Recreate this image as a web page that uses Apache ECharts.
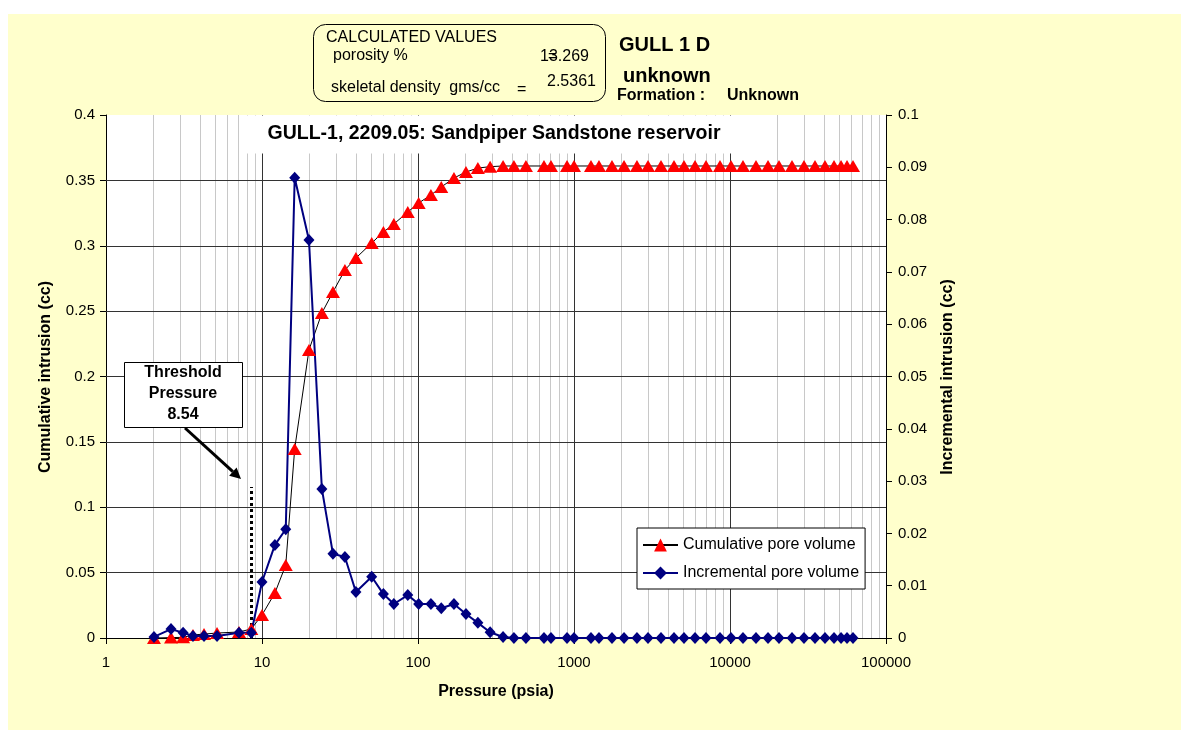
<!DOCTYPE html>
<html>
<head>
<meta charset="utf-8">
<title>GULL-1 mercury injection</title>
<script src="https://cdn.jsdelivr.net/npm/echarts@6/dist/echarts.min.js"></script>
<style>
  html, body { margin: 0; padding: 0; background: #ffffff; }
  #sheet { position: absolute; left: 8px; top: 14px; width: 1173px; height: 716px; background: #ffffcc; }
  #chart { position: absolute; left: 0; top: 0; width: 1189px; height: 736px; }
</style>
</head>
<body>
<div id="sheet"></div>
<div id="chart"></div>
<script>
// Mercury injection: pressure steps (psia)
const pressure = [
  2.03, 2.61, 3.12, 3.61, 4.25, 5.15, 7.12, 8.54, 10.0, 12.1,
  14.2, 16.2, 20.0, 24.2, 28.5, 34.0, 40.0, 50.5, 60.0, 70.0,
  86.0, 101, 121, 141, 170, 203, 242, 290, 351, 412,
  492, 642, 712, 902, 1000, 1285, 1446, 1752, 2093, 2533,
  2981, 3612, 4375, 5072, 5968, 7017, 8628, 10150, 12113, 14678,
  17530, 20610, 24970, 29800, 35070, 40640, 46430, 51500, 56250, 61440
];
// Cumulative intrusion (cc)
const cumulative = [
  0.0000, 0.0003, 0.0005, 0.0023, 0.0030, 0.0038, 0.0046, 0.0069, 0.0176, 0.0344,
  0.0558, 0.1446, 0.2203, 0.2486, 0.2646, 0.2815, 0.2906, 0.3021, 0.3105, 0.3166,
  0.3258, 0.3327, 0.3388, 0.3449, 0.3518, 0.3564, 0.3594, 0.3605, 0.3610, 0.3610,
  0.3610, 0.3610, 0.3610, 0.3610, 0.3610, 0.3610, 0.3610, 0.3610, 0.3610, 0.3610,
  0.3610, 0.3610, 0.3610, 0.3610, 0.3610, 0.3610, 0.3610, 0.3610, 0.3610, 0.3610,
  0.3610, 0.3610, 0.3610, 0.3610, 0.3610, 0.3610, 0.3610, 0.3610, 0.3610, 0.3610
];
// Incremental intrusion (cc)
const incremental = [
  0.0002, 0.0017, 0.0010, 0.0004, 0.0004, 0.0004, 0.0010, 0.0010, 0.0107, 0.0178,
  0.0208, 0.0880, 0.0761, 0.0285, 0.0161, 0.0155, 0.0088, 0.0117, 0.0084, 0.0065,
  0.0082, 0.0065, 0.0065, 0.0057, 0.0065, 0.0046, 0.0029, 0.0011, 0.0002, 0.0000,
  0.0000, 0.0000, 0.0000, 0.0000, 0.0000, 0.0000, 0.0000, 0.0000, 0.0000, 0.0000,
  0.0000, 0.0000, 0.0000, 0.0000, 0.0000, 0.0000, 0.0000, 0.0000, 0.0000, 0.0000,
  0.0000, 0.0000, 0.0000, 0.0000, 0.0000, 0.0000, 0.0000, 0.0000, 0.0000, 0.0000
];
const seriesNames = ['Cumulative pore volume', 'Incremental pore volume'];
const thresholdPressure = 8.54;
const thresholdLineTop = 0.1155;
const porosity = '13.269';
const skeletalDensity = '2.5361';
const xRange = [1, 100000];
const leftRange = [0, 0.4, 0.05];
const rightRange = [0, 0.1, 0.01];

const FONT = '"Liberation Sans", Arial, sans-serif';
const fmt = v => String(+(+v).toFixed(4));

// grid lines: 2..9 within each decade (light), decades (dark), cumulative steps (dark)
const minorX = [], majorX = [], majorY = [];
for (let d = xRange[0]; d < xRange[1]; d *= 10) {
  for (let m = 2; m <= 9; m++) minorX.push({ xAxis: m * d });
  if (d > xRange[0]) majorX.push({ xAxis: d });
}
for (let v = leftRange[2]; v < leftRange[1] - 1e-9; v += leftRange[2]) majorY.push({ yAxis: +v.toFixed(4) });

const chart = echarts.init(document.getElementById('chart'), null, { renderer: 'canvas' });

const txt = (x, y, text, size, opts = {}) => Object.assign({
  type: 'text', x, y, z: 11, silent: true,
  style: Object.assign({
    text, fill: '#000', fontFamily: FONT, fontSize: size,
    fontWeight: opts.bold ? 'bold' : 'normal',
    align: opts.align || 'left', verticalAlign: 'middle'
  })
}, opts.rotation ? { rotation: opts.rotation } : {});

// arrow from the threshold note to the dotted line
const tail = [185, 428], tip = [241, 479];
const ux = (tip[0] - tail[0]), uy = (tip[1] - tail[1]);
const ul = Math.hypot(ux, uy), ex = ux / ul, ey = uy / ul;
const headL = 11, headW = 5.5;
const base = [tip[0] - ex * headL, tip[1] - ey * headL];

const option = {
  animation: false,
  grid: {
    left: 106, top: 115, right: 303, bottom: 98,
    show: true, backgroundColor: '#ffffff', borderWidth: 0,
    containLabel: false, outerBoundsMode: 'none'
  },
  legend: {
    data: seriesNames,
    orient: 'vertical',
    left: 637, top: 528,
    padding: [9, 6, 8, 5],
    itemGap: 12, itemWidth: 35, itemHeight: 16,
    backgroundColor: '#ffffff', borderColor: '#000000', borderWidth: 1, borderRadius: 0,
    textStyle: { fontFamily: FONT, fontSize: 16, color: '#000' }
  },
  xAxis: {
    type: 'log', logBase: 10, min: xRange[0], max: xRange[1],
    axisLine: { show: true, lineStyle: { color: '#000', width: 1 } },
    axisTick: { show: true, length: 6, lineStyle: { color: '#000' } },
    axisLabel: { fontFamily: FONT, fontSize: 15, color: '#000', margin: 17, formatter: v => String(Math.round(v)) },
    splitLine: { show: false }, minorTick: { show: false }, minorSplitLine: { show: false }
  },
  yAxis: [
    {
      type: 'value', min: leftRange[0], max: leftRange[1], interval: leftRange[2], position: 'left',
      axisLine: { show: true, lineStyle: { color: '#000', width: 1 } },
      axisTick: { show: true, length: 6, lineStyle: { color: '#000' } },
      axisLabel: { fontFamily: FONT, fontSize: 15, color: '#000', margin: 11, formatter: fmt },
      splitLine: { show: false }
    },
    {
      type: 'value', min: rightRange[0], max: rightRange[1], interval: rightRange[2], position: 'right',
      axisLine: { show: true, lineStyle: { color: '#000', width: 1 } },
      axisTick: { show: true, length: 6, lineStyle: { color: '#000' } },
      axisLabel: { fontFamily: FONT, fontSize: 15, color: '#000', margin: 12, formatter: fmt },
      splitLine: { show: false }
    }
  ],
  series: [
    {
      name: 'minor-grid', type: 'line', data: [], yAxisIndex: 0, silent: true,
      markLine: {
        z: 1, silent: true, symbol: ['none', 'none'], label: { show: false }, animation: false,
        lineStyle: { type: 'solid', color: '#c8c8c8', width: 1 },
        emphasis: { disabled: true },
        data: minorX
      }
    },
    {
      name: 'major-grid', type: 'line', data: [], yAxisIndex: 0, silent: true,
      markLine: {
        z: 1.5, silent: true, symbol: ['none', 'none'], label: { show: false }, animation: false,
        lineStyle: { type: 'solid', color: '#333333', width: 1 },
        emphasis: { disabled: true },
        data: majorX.concat(majorY)
      }
    },
    {
      name: seriesNames[0], type: 'line', yAxisIndex: 0, clip: false,
      data: pressure.map((p, i) => [p, cumulative[i]]),
      symbol: 'triangle', symbolSize: [14, 12], showSymbol: true,
      itemStyle: { color: '#ff0000', borderWidth: 0 },
      lineStyle: { color: '#000000', width: 1 },
      emphasis: { disabled: true },
      markLine: {
        z: 3, silent: true, symbol: ['none', 'none'], label: { show: false }, animation: false,
        lineStyle: { type: [3, 3], color: '#000', width: 3 },
        emphasis: { disabled: true },
        data: [[{ coord: [thresholdPressure, 0] }, { coord: [thresholdPressure, thresholdLineTop] }]]
      }
    },
    {
      name: seriesNames[1], type: 'line', yAxisIndex: 1, clip: false,
      data: pressure.map((p, i) => [p, incremental[i]]),
      symbol: 'diamond', symbolSize: [11, 12], showSymbol: true,
      itemStyle: { color: '#000080', borderWidth: 0 },
      lineStyle: { color: '#000080', width: 2 },
      emphasis: { disabled: true }
    }
  ],
  graphic: [
    // title band
    { type: 'rect', z: 10, silent: true, shape: { x: 247, y: 115.5, width: 494, height: 38 }, style: { fill: '#ffffff' } },
    txt(494, 134, 'GULL-1, 2209.05: Sandpiper Sandstone reservoir', 19.5, { bold: true, align: 'center' }),

    // calculated values panel
    { type: 'rect', z: 10, silent: true, shape: { x: 313.5, y: 24.5, width: 292, height: 77, r: 12 }, style: { fill: 'none', stroke: '#000', lineWidth: 1 } },
    txt(326, 38, 'CALCULATED VALUES', 16),
    txt(333, 56, 'porosity %', 16),
    txt(540, 57, porosity, 16),
    txt(548, 57, '=', 15),
    txt(331, 88, 'skeletal density  gms/cc', 16),
    txt(517, 90, '=', 16),
    txt(547, 82, skeletalDensity, 16),

    txt(619, 45, 'GULL 1 D', 20, { bold: true }),
    txt(623, 76, 'unknown', 20, { bold: true }),
    txt(617, 96, 'Formation :', 16, { bold: true }),
    txt(727, 96, 'Unknown', 16, { bold: true }),

    // axis names
    txt(496, 692, 'Pressure (psia)', 16, { bold: true, align: 'center' }),
    txt(46, 377, 'Cumulative intrusion (cc)', 16, { bold: true, align: 'center', rotation: Math.PI / 2 }),
    txt(948, 377, 'Incremental intrusion (cc)', 16, { bold: true, align: 'center', rotation: Math.PI / 2 }),

    // threshold note
    { type: 'rect', z: 10, silent: true, shape: { x: 124.5, y: 362.5, width: 118, height: 65 }, style: { fill: '#ffffff', stroke: '#000', lineWidth: 1 } },
    txt(183, 373, 'Threshold', 16, { bold: true, align: 'center' }),
    txt(183, 394, 'Pressure', 16, { bold: true, align: 'center' }),
    txt(183, 415, thresholdPressure.toFixed(2), 16, { bold: true, align: 'center' }),
    { type: 'line', z: 10, silent: true, shape: { x1: tail[0], y1: tail[1], x2: base[0], y2: base[1] }, style: { stroke: '#000', lineWidth: 3 } },
    { type: 'polygon', z: 10, silent: true,
      shape: { points: [tip, [base[0] - ey * headW, base[1] + ex * headW], [base[0] + ey * headW, base[1] - ex * headW]] },
      style: { fill: '#000' } }
  ]
};

chart.setOption(option);
</script>
</body>
</html>
